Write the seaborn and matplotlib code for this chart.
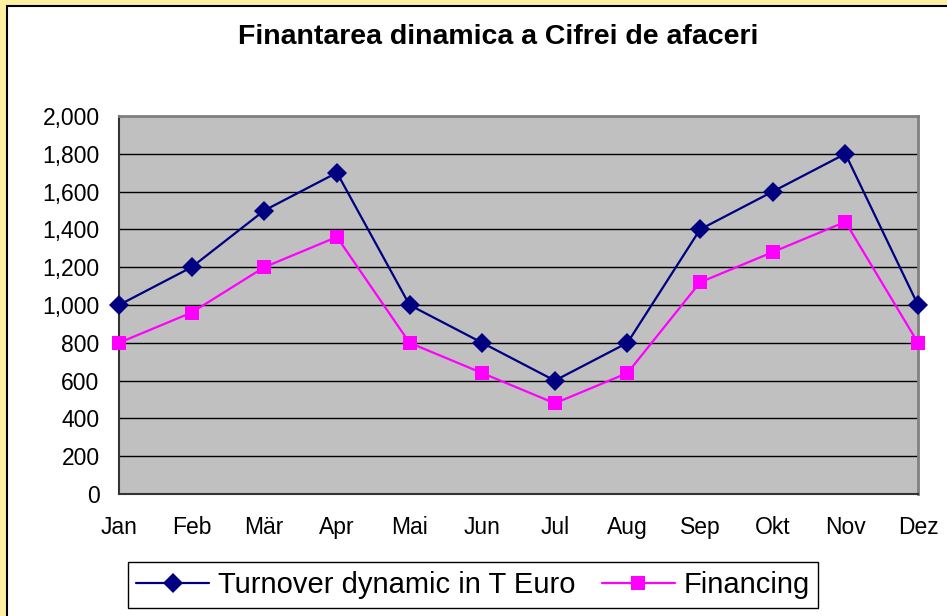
import matplotlib
matplotlib.use("Agg")
import matplotlib.pyplot as plt
import seaborn as sns
import pandas as pd
from matplotlib.patches import Rectangle
from matplotlib.ticker import FuncFormatter

# Monthly data (T Euro)
months = ["Jan", "Feb", "Mär", "Apr", "Mai", "Jun", "Jul", "Aug", "Sep", "Okt", "Nov", "Dez"]
turnover = [1000, 1200, 1500, 1700, 1000, 800, 600, 800, 1400, 1600, 1800, 1000]
financing = [800, 960, 1200, 1360, 800, 640, 480, 640, 1120, 1280, 1440, 800]

df = pd.DataFrame({"Month": months, "Turnover dynamic in T Euro": turnover, "Financing": financing})
long_df = df.melt(id_vars="Month", var_name="Series", value_name="Value")
long_df["pos"] = long_df["Month"].map({m: i for i, m in enumerate(months)})

sns.set_style("white")
plt.rcParams["font.family"] = ["Liberation Sans", "DejaVu Sans"]
plt.rcParams["text.color"] = "black"

fig = plt.figure(figsize=(9.47, 6.16), dpi=100)
fig.patch.set_facecolor("#FFEFA0")

# white chart area with black frame
fig.patches.append(Rectangle((7 / 947, -0.05), 1.0, 1.05 - 6 / 616, transform=fig.transFigure,
                             facecolor="white", edgecolor="black", linewidth=1.5, zorder=-1))

ax = fig.add_axes([119 / 947, 1 - 494 / 616, (918 - 119) / 947, (494 - 116) / 616])
ax.set_facecolor("#C0C0C0")

sns.lineplot(data=long_df, x="pos", y="Value", hue="Series", style="Series",
             palette={"Turnover dynamic in T Euro": "#000080", "Financing": "#FF00FF"},
             markers={"Turnover dynamic in T Euro": "D", "Financing": "s"},
             dashes=False, markersize=10, linewidth=1.6, markeredgewidth=0,
             ax=ax, clip_on=False, zorder=3)

ax.set_xlim(0, len(months) - 1)
ax.set_ylim(0, 2000)
ax.set_yticks(range(0, 2001, 200))
ax.yaxis.set_major_formatter(FuncFormatter(lambda v, p: f"{int(v):,}"))
ax.set_xticks(range(len(months)))
ax.set_xticklabels(months)
ax.set_xlabel("")
ax.set_ylabel("")
ax.grid(axis="y", color="black", linewidth=1)
ax.tick_params(axis="both", direction="out", length=6, width=1, colors="black",
               labelcolor="black", labelsize=16.5, pad=8)
ax.tick_params(axis="x", pad=10)

for side in ["top", "right"]:
    ax.spines[side].set_visible(True)
    ax.spines[side].set_color("#808080")
    ax.spines[side].set_linewidth(2)
for side in ["left", "bottom"]:
    ax.spines[side].set_color("#333333")
    ax.spines[side].set_linewidth(1.5)

fig.text(498 / 947, 1 - 37 / 616, "Finantarea dinamica a Cifrei de afaceri",
         ha="center", va="center", fontsize=20.5, fontweight="bold", color="black")

handles, labels = ax.get_legend_handles_labels()
ax.legend(handles, labels, loc="center", bbox_to_anchor=(473 / 947, 1 - 585 / 616),
          bbox_transform=fig.transFigure, ncol=2, fontsize=21, frameon=True, fancybox=False,
          edgecolor="black", framealpha=1, handlelength=2.5, columnspacing=0.9,
          borderpad=0.3, handletextpad=0.3, borderaxespad=0)

fig.savefig("out.png", dpi=100, facecolor=fig.get_facecolor())
